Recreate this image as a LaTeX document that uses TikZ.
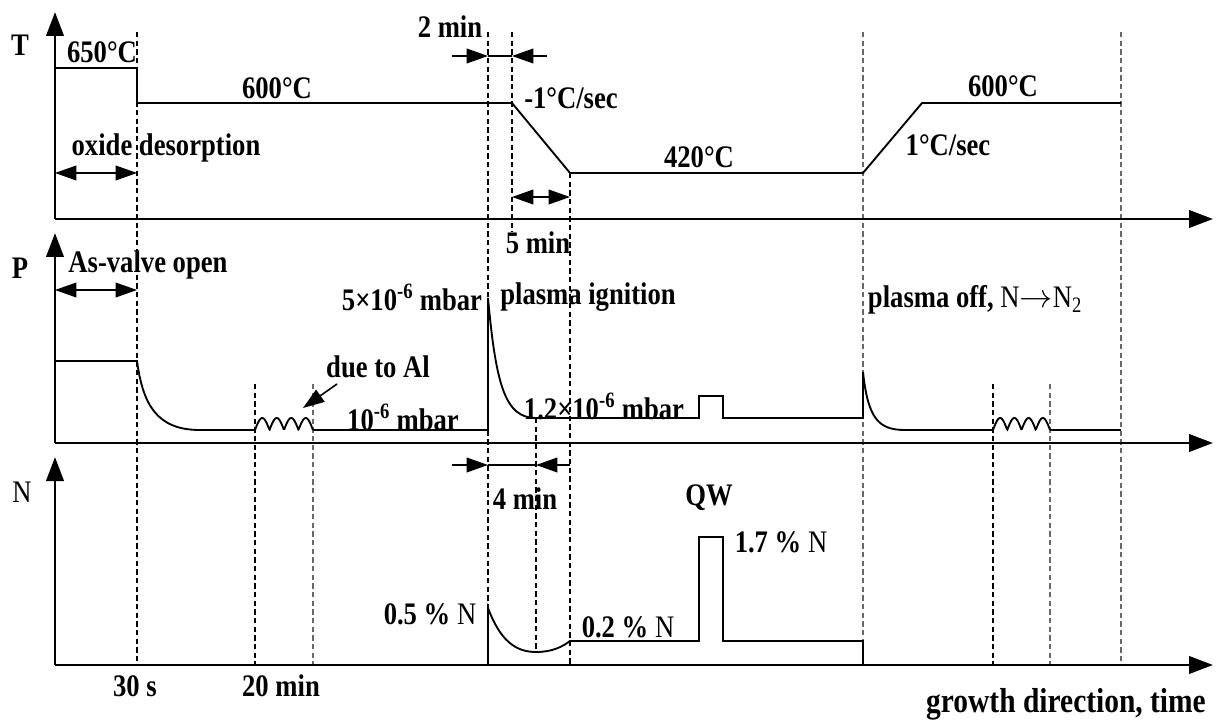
\documentclass[tikz,border=0pt]{standalone}
\usepackage{fontspec}
\setmainfont{Liberation Serif}[FakeStretch=0.85]
\usepackage{tikz}
\usetikzlibrary{arrows.meta}
\definecolor{guidegray}{RGB}{105, 105, 105}

\begin{document}
\begin{tikzpicture}[x=0.75pt, y=-0.75pt, >={Triangle[length=16pt,width=11pt]},
  lbl/.style={font=\fontsize{23.5}{27}\selectfont\bfseries, inner sep=0pt},
  axis/.style={line width=2.2pt, -{Triangle[length=18pt,width=13pt]}},
  curve/.style={line width=1.4pt},
  guide/.style={line width=1pt, dash pattern=on 4pt off 2.5pt},
  dim/.style={line width=1.2pt}]

  \useasboundingbox (0,0) rectangle (1221,720);

  % Guide lines
  \draw[guide] (137,32) -- (137,665);
  \draw[guide] (255,384) -- (255,665);
  \draw[guide, guidegray] (313,384) -- (313,665);
  \draw[guide] (488,32) -- (488,665);
  \draw[guide] (512,32) -- (512,232);
  \draw[guide] (536,418) -- (536,652);
  \draw[guide] (570,173) -- (570,665);
  \draw[guide, guidegray] (863,32) -- (863,665);
  \draw[guide] (993,384) -- (993,665);
  \draw[guide, guidegray] (1050,384) -- (1050,665);
  \draw[guide, guidegray] (1121,32) -- (1121,665);

  % Axes
  \draw[axis] (55,219) -- (55,12);
  \draw[axis] (55,219) -- (1213,219);
  \draw[axis] (55,443) -- (55,233);
  \draw[axis] (55,443) -- (1213,443);
  \draw[axis] (55,665) -- (55,457);
  \draw[axis] (55,665) -- (1213,665);
  \node[lbl] (labT) at (20,45) {T};
  \node[lbl] (labP) at (20,268) {P};
  \node[lbl, font=\fontsize{23.5}{27}\selectfont] (labN) at (22,492) {N};

  % Temperature
  \draw[curve] (55,68) -- (137,68) -- (137,103) -- (512,103) -- (570,173)
    -- (863,173) -- (922,103) -- (1121,103);
  \node[lbl] (t650) at (102,52) {650°C};
  \node[lbl] (t600a) at (277,88) {600°C};
  \node[lbl] (rampdn) at (571,98) {-1°C/sec};
  \node[lbl] (t420) at (699,157) {420°C};
  \node[lbl] (t600b) at (1003,86) {600°C};
  \node[lbl] (rampup) at (948,145) {1°C/sec};

  % Oxide desorption
  \draw[dim, <->] (55,173) -- (137,173);
  \node[lbl] (oxide) at (166,148) {oxide desorption};

  % 2 min and 5 min
  \draw[dim, ->] (452,56) -- (488,56);
  \draw[dim] (488,56) -- (512,56);
  \draw[dim, ->] (547,56) -- (512,56);
  \node[lbl] (twomin) at (450,27) {2 min};
  \draw[dim, <->] (512,197) -- (570,197);
  \node[lbl] (fivemin) at (538,243) {5 min};

  % Pressure
  \draw[curve] (55,361) -- (137,361) .. controls (143,405) and (157,430) .. (200,430)
    -- (255,430);
  \draw[curve] plot[domain=0:1, samples=80, smooth] ({255+58*\x},{430-12*abs(sin(720*\x))});
  \draw[curve] (313,430) -- (488,430) -- (488,298)
    .. controls (496,385) and (505,418) .. (536,418) -- (699,418) -- (699,396)
    -- (723,396) -- (723,418) -- (863,418) -- (863,372)
    .. controls (868,418) and (878,430) .. (905,430) -- (993,430);
  \draw[curve] plot[domain=0:1, samples=80, smooth] ({993+57*\x},{430-12*abs(sin(720*\x))});
  \draw[curve] (1050,430) -- (1121,430);

  \draw[dim, <->] (55,290) -- (137,290);
  \node[lbl] (asvalve) at (148,265) {As-valve open};
  \node[lbl] (pfive) at (412,297) {5×10\textsuperscript{-6} mbar};
  \node[lbl] (ignite) at (588,297) {plasma ignition};
  \node[lbl] (dueal) at (378,367) {due to Al};
  \coordinate (altip) at (303,408);
  \draw[dim, ->] (337,384) -- (altip);
  \node[lbl] (pone) at (403,417) {10\textsuperscript{-6} mbar};
  \node[lbl] (ponetwo) at (604,406) {1.2×10\textsuperscript{-6} mbar};
  \node[lbl] (plasoff) at (975,300) {plasma off, {\mdseries N}$\rightarrow${\mdseries N\textsubscript{2}}};

  % Nitrogen
  \draw[curve] (488,665) -- (488,608) .. controls (500,640) and (515,652) .. (536,652)
    .. controls (552,652) and (562,647) .. (570,641) -- (699,641) -- (699,537)
    -- (723,537) -- (723,641) -- (863,641) -- (863,665);

  % 4 min
  \draw[dim, ->] (452,465) -- (488,465);
  \draw[dim] (488,465) -- (536,465);
  \draw[dim, ->] (570,465) -- (536,465);
  \node[lbl] (fourmin) at (525,499) {4 min};

  \node[lbl] (nhalf) at (430,614) {0.5 \% {\mdseries N}};
  \node[lbl] (ntwo) at (628,627) {0.2 \% {\mdseries N}};
  \node[lbl] (qw) at (709,498) {QW};
  \node[lbl] (nqw) at (781,542) {1.7 \% {\mdseries N}};

  % Time marks
  \node[lbl] (thirty) at (135,686) {30 s};
  \node[lbl] (twenty) at (281,686) {20 min};
  \node[lbl, font=\fontsize{26}{30}\selectfont\bfseries] (growth) at (1066,704) {growth direction, time};

\end{tikzpicture}
\end{document}
